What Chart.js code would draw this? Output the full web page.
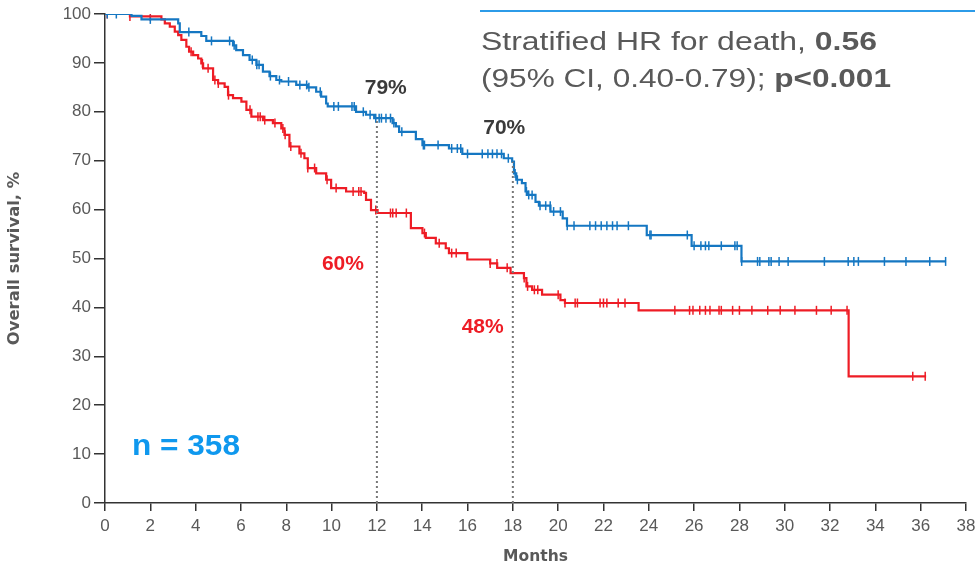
<!DOCTYPE html>
<html>
<head>
<meta charset="utf-8">
<script src="https://cdn.jsdelivr.net/npm/chart.js@4/dist/chart.umd.min.js"></script>
<style>
html,body{margin:0;padding:0;background:#fff}
#wrap{width:975px;height:570px}
</style>
</head>
<body>
<div id="wrap"><canvas id="km"></canvas></div>
<script>
// Kaplan-Meier steps: month where the step starts, survival % from that month
const blueMonths = [0,1.17,1.61,3.23,3.30,4.25,4.47,5.65,5.79,6.09,6.38,6.68,6.97,7.26,7.56,7.78,8.44,8.95,9.32,9.54,9.76,9.83,11.08,11.52,11.88,12.69,12.84,12.98,13.72,14.01,15.18,15.77,17.6,17.97,18.05,18.15,18.4,18.56,18.65,19.0,19.15,19.66,20.2,20.39,23.91,25.89,28.09,37.12]
const blueSurv = [100,99.6,98.9,98.1,96.3,95.5,94.5,93.6,92.6,91.6,90.6,89.6,88.2,87.3,86.5,86.2,85.5,85.0,84.1,83.1,81.7,81.1,80.0,79.4,78.7,77.7,77.0,75.9,74.4,73.2,72.5,71.4,70.5,69.8,67.4,66.1,65.4,63.7,63.0,61.6,60.8,59.6,58.2,56.7,54.8,52.6,49.4,49.4]

const redMonths = [0,1.1,2.49,2.64,2.86,3.08,3.23,3.37,3.59,3.71,3.89,4.11,4.25,4.33,4.77,4.99,5.28,5.43,5.65,6.02,6.24,6.46,6.97,7.41,7.78,7.92,8.14,8.58,8.80,8.95,9.32,9.76,9.98,10.64,11.44,11.52,11.74,12.03,13.5,14.01,14.16,14.6,15.04,15.18,15.99,17.0,17.31,17.9,18.49,18.6,18.85,19.29,20.1,20.3,23.55,32.82,36.24]
const redSurv = [100,99.5,98.9,98.1,97.4,96.4,95.7,94.7,93.3,92.3,91.6,90.9,89.9,88.9,86.5,85.8,85.1,83.4,82.8,82.1,80.4,79.0,78.3,77.7,76.6,75.3,72.9,71.5,70.5,68.5,67.4,66.1,64.4,63.7,63.4,62.0,59.9,59.3,56.2,55.2,54.2,53.1,52.1,51.1,49.8,49.0,48.1,47.0,46.0,44.3,43.6,42.6,41.5,40.9,39.4,25.9,25.9]

// censored patients (months)
const blueCensor = [0.1,0.5,2.0,3.7,4.7,5.5,5.7,6.5,6.7,6.8,7.3,7.7,8.1,8.6,8.9,9.0,9.5,10.1,10.3,10.9,11.0,11.4,11.7,11.95,12.1,12.2,12.4,12.6,12.75,13.1,14.05,14.1,14.7,15.3,15.55,15.7,16.0,16.65,16.9,17.1,17.3,17.5,17.8,18.1,18.2,18.6,18.7,18.85,19.2,19.45,19.65,19.8,20.1,20.4,20.7,21.4,21.65,21.9,22.15,22.4,22.6,23.1,24.05,24.1,25.7,26.0,26.3,26.5,26.65,27.2,27.8,27.9,28.1,28.8,28.9,29.3,29.4,29.75,30.15,31.75,32.8,33.05,33.25,34.4,35.35,36.4,37.1]
const redCensor = [0.1,1.1,2.0,3.8,4.3,4.55,4.85,5.0,5.45,6.4,6.75,6.85,7.05,7.5,7.85,7.95,8.2,8.65,8.95,9.25,9.8,10.2,10.95,11.2,11.3,11.95,12.6,12.7,12.85,13.3,14.1,14.75,15.3,15.5,17.0,17.3,17.75,18.5,18.65,18.95,19.1,20.0,20.3,20.75,20.85,21.85,22.0,22.15,22.65,22.95,25.15,25.8,25.95,26.25,26.5,26.7,27.1,27.2,27.7,28.0,28.55,29.25,29.8,30.45,31.4,32.05,32.75,35.65,36.2]

// landmark survival at 12 and 18 months
const landmarkMonths = [12, 18]
const blueLandmark = [79, 70]
const redLandmark = [60, 48]

const xTicks = [0,2,4,6,8,10,12,14,16,18,20,22,24,26,28,30,32,34,36,38]
const yTicks = [0,10,20,30,40,50,60,70,80,90,100]

const BLUE = "#1577c2"
const RED = "#ee1c25"
const GREY = "#595959"
const FONT = "'Liberation Sans', Arial, sans-serif"

function steps(months, surv){
  return months.map((m, i) => ({x: m, y: surv[i]}))
}

function survAt(months, surv, t){
  let v = surv[0]
  for(let i = 0; i < months.length; i++){
    if(months[i] <= t) v = surv[i]
  }
  return v
}

function censorPoints(times, months, surv){
  return times.map(t => ({x: t, y: survAt(months, surv, t)}))
}

const landmarkLines = landmarkMonths.map(m => ({
  data: [{x: m, y: 0}, {x: m, y: survAt(blueMonths, blueSurv, m)}],
  borderColor: "#777",
  borderWidth: 2,
  borderDash: [2, 3],
  pointRadius: 0,
  fill: false
}))

// draw text stretched horizontally to a given width
function wideText(ctx, parts, x, y, width){
  let total = 0
  parts.forEach(p => { ctx.font = p.font; total += ctx.measureText(p.text).width })
  const k = width / total
  ctx.save()
  ctx.translate(x, y)
  ctx.scale(k, 1)
  let cx = 0
  parts.forEach(p => {
    ctx.font = p.font
    ctx.fillText(p.text, cx, 0)
    cx += ctx.measureText(p.text).width
  })
  ctx.restore()
}

const textPlugin = {
  id: "kmText",
  afterDraw(chart){
    const ctx = chart.ctx
    const xs = chart.scales.x
    const ys = chart.scales.y
    ctx.save()

    // landmark labels
    ctx.textAlign = "center"
    ctx.textBaseline = "middle"
    ctx.font = "bold 21px " + FONT
    ctx.fillStyle = "#3a3a3a"
    ctx.fillText(blueLandmark[0] + "%", xs.getPixelForValue(12.39), ys.getPixelForValue(84.8))
    ctx.fillText(blueLandmark[1] + "%", xs.getPixelForValue(17.62), ys.getPixelForValue(76.6))
    ctx.fillStyle = RED
    ctx.fillText(redLandmark[0] + "%", xs.getPixelForValue(10.5), ys.getPixelForValue(48.9))
    ctx.fillText(redLandmark[1] + "%", xs.getPixelForValue(16.67), ys.getPixelForValue(35.9))

    // n
    ctx.textAlign = "left"
    ctx.textBaseline = "alphabetic"
    ctx.fillStyle = "#0f98ee"
    wideText(ctx, [{text: "n = 358", font: "bold 30px " + FONT}], 132, 455, 108)

    // HR box
    ctx.strokeStyle = "#2c9be8"
    ctx.lineWidth = 2
    ctx.beginPath()
    ctx.moveTo(480, 11)
    ctx.lineTo(975, 11)
    ctx.stroke()

    ctx.fillStyle = GREY
    const reg = "26px " + FONT
    const bold = "bold 26px " + FONT
    wideText(ctx, [{text: "Stratified HR for death, ", font: reg}, {text: "0.56", font: bold}], 481, 50, 396)
    wideText(ctx, [{text: "(95% CI, 0.40-0.79); ", font: reg}, {text: "p<0.001", font: bold}], 481, 87, 410)
    ctx.restore()
  }
}

new Chart(document.getElementById("km"), {
  type: "line",
  data: {
    datasets: [
      ...landmarkLines,
      {
        data: steps(blueMonths, blueSurv),
        borderColor: BLUE,
        borderWidth: 2.2,
        stepped: "before",
        pointRadius: 0,
        fill: false
      },
      {
        data: steps(redMonths, redSurv),
        borderColor: RED,
        borderWidth: 2.2,
        stepped: "before",
        pointRadius: 0,
        fill: false
      },
      {
        type: "scatter",
        data: censorPoints(blueCensor, blueMonths, blueSurv),
        pointStyle: "line",
        rotation: 90,
        radius: 4.5,
        borderColor: BLUE,
        borderWidth: 1.5,
        showLine: false
      },
      {
        type: "scatter",
        data: censorPoints(redCensor, redMonths, redSurv),
        pointStyle: "line",
        rotation: 90,
        radius: 4.5,
        borderColor: RED,
        borderWidth: 1.5,
        showLine: false
      }
    ]
  },
  options: {
    responsive: true,
    maintainAspectRatio: false,
    animation: false,
    events: [],
    layout: {padding: {left: 0, right: 9, top: 14, bottom: 0}},
    plugins: {legend: {display: false}, tooltip: {enabled: false}},
    scales: {
      x: {
        type: "linear",
        min: 0,
        max: 38,
        afterBuildTicks: s => { s.ticks = xTicks.map(v => ({value: v})) },
        afterFit: s => { s.height = 67; s.paddingRight = 0 },
        ticks: {color: GREY, font: {size: 17, family: FONT}, padding: 5, maxRotation: 0},
        grid: {drawOnChartArea: false, drawTicks: true, tickLength: 8, color: "#333", lineWidth: 1.5},
        border: {color: "#333", width: 1.5},
        title: {display: true, text: "Months", color: GREY, padding: {top: 6}, font: {size: 15.5, weight: "bold", family: "'DejaVu Sans', sans-serif"}}
      },
      y: {
        min: 0,
        max: 100,
        afterBuildTicks: s => { s.ticks = yTicks.map(v => ({value: v})) },
        afterFit: s => { s.width = 105 },
        ticks: {color: GREY, font: {size: 17, family: FONT}, padding: 3},
        grid: {drawOnChartArea: false, drawTicks: true, tickLength: 11, color: "#333", lineWidth: 1.5},
        border: {color: "#333", width: 1.5},
        title: {display: true, text: "Overall survival, %", color: GREY, padding: {bottom: 0, top: 5}, font: {size: 16.4, weight: "bold", family: "'DejaVu Sans', sans-serif"}}
      }
    }
  },
  plugins: [textPlugin]
})
</script>
</body>
</html>
